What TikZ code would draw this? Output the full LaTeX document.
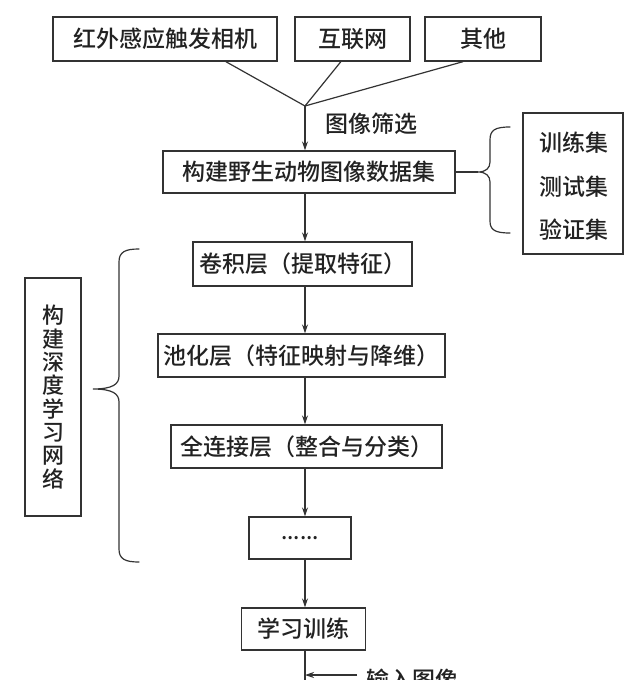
\documentclass[tikz,border=0pt]{standalone}
\usepackage{fontspec}
\setmainfont{Noto Sans CJK SC}[UprightFont={* Medium}]
\usetikzlibrary{arrows.meta,calc}
\definecolor{ink}{HTML}{222222}
\definecolor{stroke}{HTML}{333333}
\tikzset{
  box/.style={draw=stroke, line width=1.3pt, fill=white, inner sep=0pt,
    text=ink, font=\fontsize{23}{25}\selectfont, anchor=center},
  lbl/.style={text=ink, font=\fontsize{23}{25}\selectfont, inner sep=0pt},
  arr/.style={draw=stroke, line width=1.2pt, -{Stealth[length=9pt,width=6pt]}},
  ln/.style={draw=stroke, line width=1.2pt},
  brace/.style={draw=stroke, line width=1.2pt, line cap=round}
}
\begin{document}
\begin{tikzpicture}[x=1pt,y=-1pt]
\fill[white] (0,0) rectangle (640,680);
\useasboundingbox (0,0) rectangle (640,680);

% top sources
\node[box, minimum width=224pt, minimum height=44pt] (b1) at (165,39) {红外感应触发相机};
\node[box, minimum width=115pt, minimum height=44pt] (b2) at (352.5,39) {互联网};
\node[box, minimum width=116pt, minimum height=44pt] (b3) at (483,39) {其他};
\coordinate (j) at (305,106);

\draw[ln] ($(b1.south west)!0.77!(b1.south east)$) -- (j);
\draw[ln] ($(b2.south west)!0.40!(b2.south east)$) -- (j);
\draw[ln] ($(b3.south west)!0.33!(b3.south east)$) -- (j);

% dataset
\node[box, minimum width=292pt, minimum height=42pt] (data) at (309,172) {构建野生动物图像数据集};
\draw[arr] (j) -- (data.north -| j);
\node[lbl, anchor=west] (filt) at (325,124) {图像筛选};

% right split box
\node[box, minimum width=100pt, minimum height=141pt, align=center] (split) at (573,183.5) {};
\node[lbl] (tr) at (574,143) {训练集};
\node[lbl] (te) at (574,187) {测试集};
\node[lbl] (va) at (574,230) {验证集};
\coordinate (rtip) at (478,172);
\draw[ln] (data.east) -- (rtip);
\draw[brace] (510,127) .. controls (495,127) and (490,130) .. (490,140) -- (490,162)
  .. controls (490,168) and (486,172) .. (rtip)
  .. controls (486,172) and (490,176) .. (490,182) -- (490,221)
  .. controls (490,230) and (495,233) .. (510,233);

% network layers
\node[box, minimum width=219pt, minimum height=44pt] (conv) at (302.5,264) {卷积层（提取特征）};
\node[box, minimum width=287pt, minimum height=43pt] (pool) at (301.5,355.5) {池化层（特征映射与降维）};
\node[box, minimum width=271pt, minimum height=43pt] (fc) at (306.5,446.5) {全连接层（整合与分类）};
\node[box, minimum width=102pt, minimum height=42pt, font=\fontsize{21}{23}\selectfont] (dots) at (300,538) {......};
\node[box, minimum width=124pt, minimum height=42pt] (learn) at (303.5,629) {学习训练};

\draw[arr] (data.south -| j) -- (conv.north -| j);
\draw[arr] (conv.south -| j) -- (pool.north -| j);
\draw[arr] (pool.south -| j) -- (fc.north -| j);
\draw[arr] (fc.south -| j) -- (dots.north -| j);
\draw[arr] (dots.south -| j) -- (learn.north -| j);

% bottom
\coordinate (bot) at (305,690);
\draw[ln] (learn.south -| j) -- (bot);
\coordinate (inp) at (357,675);
\draw[arr] (inp) -- (inp -| j);
\node[lbl, anchor=west] (inlbl) at (366,680) {输入图像};

% left brace and box
\node[box, minimum width=56pt, minimum height=238pt] (deep) at (53,397) {};
\node[lbl, align=center, font=\fontsize{22}{23.3}\selectfont] (deeptxt) at (53,397) {构\\建\\深\\度\\学\\习\\网\\络};
\draw[brace] (139,249) .. controls (125,249) and (119,252) .. (119,262) -- (119,376)
  .. controls (119,384) and (113,389) .. (93,389)
  .. controls (113,389) and (119,394) .. (119,402) -- (119,549)
  .. controls (119,559) and (125,562) .. (139,562);
\end{tikzpicture}
\end{document}
